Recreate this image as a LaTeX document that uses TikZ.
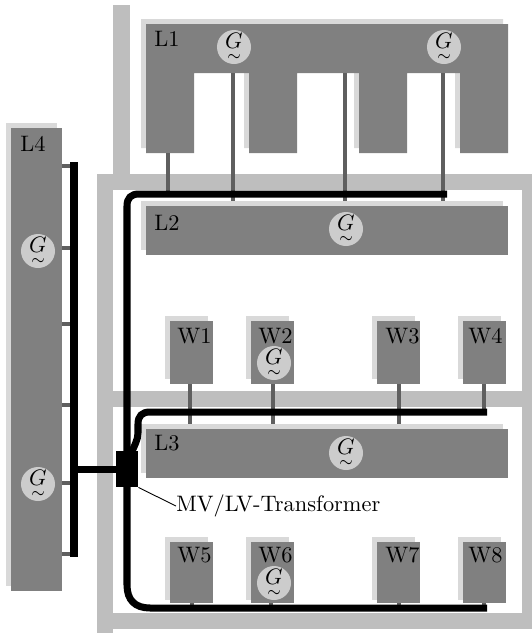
\documentclass[tikz,border=0pt]{standalone}
\usepackage{amsmath, amssymb}
\usepackage{tikz}
\definecolor{frame-gray}{RGB}{190,190,190}
\definecolor{area-gray}{RGB}{128,128,128}
\definecolor{shade-gray}{RGB}{217,217,217}
\definecolor{gen-gray}{RGB}{204,204,204}
\definecolor{stub-gray}{RGB}{95,95,95}
\tikzset{
  feeder/.style={stub-gray, line width=2.1pt},
  busbar/.style={black, line width=3.13pt},
  gen/.style={circle, fill=gen-gray, minimum size=15.2pt, inner sep=0pt},
  area/.style={anchor=base west, inner sep=0pt}
}
\newcommand{\genlab}{\oalign{$G$\crcr\hidewidth\vbox to 1ex{\vskip1.4pt\hbox{$\scriptstyle\sim$}\vss}\hidewidth}}

\begin{document}
\begin{tikzpicture}[x=0.447pt, y=-0.447pt]
  \useasboundingbox (0,0) rectangle (532,633);
  % Rahmen
  \fill[frame-gray] (113,5) rectangle (130,190);
  \fill[frame-gray] (97,174) rectangle (532,190);
  \fill[frame-gray] (97,174) rectangle (113,633);
  \fill[frame-gray] (522,174) rectangle (532,629);
  \fill[frame-gray] (97,391) rectangle (532,407);
  \fill[frame-gray] (97,613) rectangle (532,629);

  % L1
  \fill[shade-gray] (141,19) -- (503,19) -- (503,148) -- (455,148) -- (455,68)
    -- (402,68) -- (402,148) -- (354,148) -- (354,68) -- (292,68) -- (292,148)
    -- (244,148) -- (244,68) -- (189,68) -- (189,148) -- (141,148) -- cycle;
  \fill[area-gray] (146,24) -- (508,24) -- (508,153) -- (460,153) -- (460,73)
    -- (407,73) -- (407,153) -- (359,153) -- (359,73) -- (297,73) -- (297,153)
    -- (249,153) -- (249,73) -- (194,73) -- (194,153) -- (146,153) -- cycle;
  % L2, L3, L4
  \foreach \xa/\ya/\xb/\yb in {146/206/508/255, 146/429/508/478, 11/128/62/591}{
    \fill[shade-gray] (\xa-5,\ya-5) rectangle (\xb-5,\yb-5);
    \fill[area-gray] (\xa,\ya) rectangle (\xb,\yb);
  }
  % W1 - W8
  \foreach \xa in {170,251,377,463}{
    \fill[shade-gray] (\xa-5.5,316) rectangle (\xa+37.5,379);
    \fill[area-gray] (\xa,321) rectangle (\xa+43,384);
    \fill[shade-gray] (\xa-5.5,537) rectangle (\xa+37.5,600);
    \fill[area-gray] (\xa,542) rectangle (\xa+43,603);
  }

  % Abgaenge
  \foreach \xa/\ya/\yb in {
    168/153/194, 233/73/201, 345/73/201, 443/73/201,
    190/384/424, 273/384/424, 399/384/424, 484/384/412,
    192/603/608, 271/603/608, 399/603/608, 484/603/608}{
    \draw[feeder] (\xa,\ya) -- (\xa,\yb);
  }
  \foreach \ya in {166,248,324,405,483,554}{
    \draw[feeder] (62,\ya) -- (74,\ya);
  }

  % Sammelschienen
  \draw[busbar] (74,162) -- (74,557);
  \draw[busbar] (447,194) -- (139,194)
    .. controls (131,194) and (127,198) .. (127,206) -- (127,585)
    .. controls (127,600) and (135,608) .. (150,608) -- (487,608);
  \draw[busbar] (487,412) -- (150,412)
    .. controls (142,412) and (138,416) .. (138,424) -- (138,433)
    .. controls (138,440) and (134,446) .. (131,454);

  % Transformator
  \node[fill=black, minimum width=9.83pt, minimum height=16.1pt, inner sep=0pt]
    (trafo) at (127,469) {};
  \draw[busbar] (74,469) -- (trafo.west);
  \node[area, anchor=west] (trafolab) at (176,506) {MV/LV-Transformer};
  \draw[thin] (trafo.south east) -- (trafolab.west);

  % Generatoren
  \foreach \name/\xa/\ya in {
    ga/234/47, gb/444/47, gc/346/229, gd/346/453, ge/38/251,
    gf/38/484, gg/274/363, gh/274/583}{
    \node[gen] (\name) at (\xa,\ya) {\genlab};
  }

  % Beschriftungen
  \foreach \lab/\xa/\ya in {
    L1/154/46, L2/154/230, L3/154/450, L4/20/151,
    W1/177/343, W2/258/343, W3/385/343, W4/468/343,
    W5/177/562, W6/258/562, W7/385/562, W8/468/562}{
    \node[area] (lab\lab) at (\xa,\ya) {\lab};
  }
\end{tikzpicture}
\end{document}
